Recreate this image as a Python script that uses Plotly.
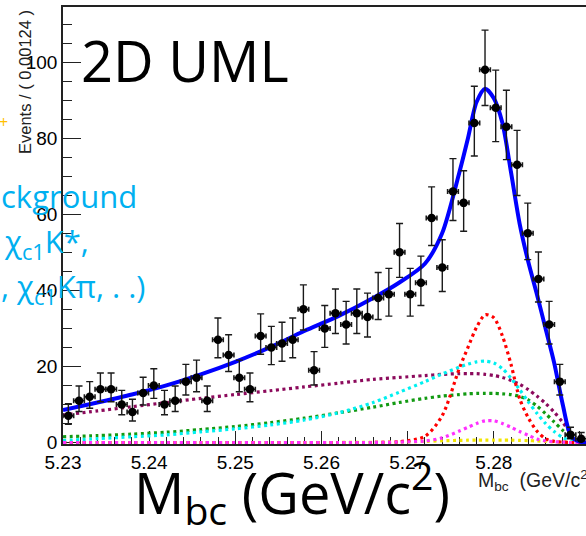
import math
import plotly.graph_objects as go

# ---------------------------------------------------------------------------
# Binned M_bc data: 49 bins of 0.00124 GeV/c^2 starting at 5.23 GeV/c^2
# ---------------------------------------------------------------------------
bin_lo = 5.23
bin_width = 0.00124
counts = [7, 11, 12, 14, 14, 10, 8, 13, 15, 10,
          11, 16, 17, 11, 27, 23, 17, 14, 28, 25,
          26, 27, 35, 19, 30, 34, 31, 34, 33, 38,
          39, 50, 39, 42, 59, 46, 66, 63, 84, 98,
          88, 83, 73, 55, 43, 31, 16, 2, 1]

# Fit curves sampled on a common M_bc grid
mbc_grid = [5.230, 5.234, 5.238, 5.242, 5.246, 5.250, 5.254, 5.258, 5.262, 5.266,
            5.269, 5.272, 5.274, 5.276, 5.277, 5.278, 5.279, 5.280, 5.281, 5.282,
            5.283, 5.284, 5.285, 5.286, 5.287, 5.288, 5.289, 5.290, 5.2907]

fit_total = [8.5, 10.5, 12.6, 15.0, 17.9, 21.2, 25.0, 29.3, 33.3, 38.0,
             42.0, 47.0, 55.0, 71.0, 80.0, 89.5, 93.0, 90.5, 84.0, 71.0,
             57.5, 47.5, 39.0, 30.0, 21.0, 10.0, 1.5, 0.2, 0.0]
bkg_continuum = [7.2, 8.3, 9.4, 10.5, 11.6, 12.6, 13.6, 14.6, 15.6, 16.6,
                 17.1, 17.6, 17.9, 18.1, 18.1, 18.1, 17.9, 17.6, 17.1, 16.3,
                 15.3, 13.9, 12.2, 10.3, 8.0, 5.3, 2.2, 0.2, 0.0]
bkg_cyan = [0.5, 1.0, 1.5, 2.0, 2.8, 3.6, 4.6, 5.9, 7.8, 10.5,
            13.2, 16.0, 18.0, 19.8, 20.6, 21.2, 21.4, 20.9, 19.4, 16.9,
            13.9, 10.7, 7.7, 5.0, 2.9, 1.3, 0.4, 0.0, 0.0]
bkg_green = [1.5, 1.8, 2.2, 2.7, 3.4, 4.2, 5.2, 6.4, 7.8, 9.3,
             10.5, 11.6, 12.2, 12.6, 12.8, 12.9, 12.9, 12.9, 12.8, 12.6,
             12.1, 11.2, 9.6, 7.6, 5.4, 3.2, 1.2, 0.1, 0.0]
sig_red = [0, 0, 0, 0, 0, 0, 0, 0, 0, 0,
           0.2, 1.6, 7.0, 19.5, 25.0, 30.3, 33.6, 32.8, 28.0, 20.5,
           11.5, 6.5, 3.0, 1.0, 0.3, 0.1, 0, 0, 0]
sig_magenta = [0, 0, 0, 0, 0, 0, 0, 0, 0, 0,
               0.1, 0.4, 1.2, 3.0, 4.0, 5.0, 5.7, 5.7, 5.0, 4.0,
               2.9, 1.9, 0.9, 0.4, 0.2, 0.1, 0, 0, 0]
sig_yellow = [0, 0, 0, 0, 0, 0, 0, 0, 0, 0.05,
              0.1, 0.3, 0.45, 0.55, 0.6, 0.6, 0.6, 0.6, 0.6, 0.6,
              0.55, 0.5, 0.4, 0.3, 0.2, 0.15, 0.05, 0, 0]

x_tick_vals = [5.23, 5.24, 5.25, 5.26, 5.27, 5.28, 5.29]
x_tick_text = ["5.23", "5.24", "5.25", "5.26", "5.27", "5.28", "5.29"]
y_tick_vals = [0, 20, 40, 60, 80, 100]

# ---------------------------------------------------------------------------
W, H = 586, 536
ML, MR, MT, MB = 63, 0, 7, 92
PW, PH = W - ML - MR, H - MT - MB


def px(xp):
    return (xp - ML) / PW


def py(yp):
    return (H - MB - yp) / PH


bin_centres = [bin_lo + (i + 0.5) * bin_width for i in range(len(counts))]
err_hi = [0.5 + math.sqrt(n + 0.25) for n in counts]
err_lo = [-0.5 + math.sqrt(n + 0.25) for n in counts]

fig = go.Figure()


def dotted(y, color):
    fig.add_trace(go.Scatter(
        x=mbc_grid, y=y, mode="lines",
        line=dict(color=color, width=3.2, dash="3px,3.5px", shape="spline", smoothing=0.8),
        hoverinfo="skip", showlegend=False))


dotted(bkg_continuum, "#8c0a5c")
dotted(bkg_green, "#129a12")
dotted(bkg_cyan, "#00f0f0")
dotted(sig_yellow, "#f2e600")
dotted(sig_red, "#ff0000")
dotted(sig_magenta, "#ff30ff")

fig.add_trace(go.Scatter(
    x=mbc_grid, y=fit_total, mode="lines",
    line=dict(color="#0000ff", width=4, shape="spline", smoothing=0.8),
    hoverinfo="skip", showlegend=False))

fig.add_trace(go.Scatter(
    x=bin_centres, y=counts, mode="markers",
    marker=dict(color="black", size=8.5, symbol="circle"),
    error_y=dict(type="data", symmetric=False, array=err_hi, arrayminus=err_lo,
                 color="#1a1a1a", thickness=1.4, width=3.5),
    error_x=dict(type="constant", value=bin_width / 2, color="#1a1a1a",
                 thickness=1.6, width=2.5),
    hoverinfo="skip", showlegend=False))

tick_font = dict(family="Liberation Sans, Arial, sans-serif", size=19, color="black")

fig.update_layout(
    width=W, height=H,
    margin=dict(l=ML, r=MR, t=MT, b=MB, pad=0),
    paper_bgcolor="white", plot_bgcolor="white",
    xaxis=dict(range=[5.23, 5.2907], showgrid=False, zeroline=False,
               tickmode="array", tickvals=x_tick_vals, ticktext=x_tick_text,
               ticks="inside", ticklen=13, tickwidth=1.3, tickcolor="#222",
               showline=True, linecolor="#222", linewidth=1.6, mirror=True,
               tickfont=tick_font, layer="below traces",
               minor=dict(dtick=0.002, tick0=5.23, ticks="inside", ticklen=7,
                          tickwidth=1.2, tickcolor="#222", showgrid=False)),
    yaxis=dict(range=[-0.4, 114.5], showgrid=False, zeroline=False,
               tickmode="array", tickvals=y_tick_vals,
               ticks="inside", ticklen=18, tickwidth=1.3, tickcolor="#222",
               showline=True, linecolor="#222", linewidth=1.6,
               tickfont=tick_font, layer="below traces",
               minor=dict(dtick=5, tick0=0, ticks="inside", ticklen=9,
                          tickwidth=1.2, tickcolor="#222", showgrid=False)),
)

annotations = [
    # ROOT-style axis titles
    dict(text="Events / ( 0.00124 )", x=px(25), y=py(82), textangle=-90,
         font=dict(family="Liberation Sans, Arial, sans-serif", size=16.5, color="#222")),
    dict(text="M<sub>bc</sub>  (GeV/c<sup>2</sup>)", x=px(476), y=py(480), xanchor="left",
         font=dict(family="Liberation Sans, Arial, sans-serif", size=19.5, color="#222")),
    # slide overlays
    dict(text="2D UML", x=px(79), y=py(59.5), xanchor="left",
         font=dict(family="Open Sans", size=56, color="black")),
    dict(text="M<sub>bc</sub> (GeV/c<sup>2</sup>)", x=px(132), y=py(492), xanchor="left",
         font=dict(family="Open Sans", size=56, color="black")),
    dict(text="ckground", x=px(-1), y=py(196), xanchor="left",
         font=dict(family="Open Sans", size=31, color="#00b0f0")),
    dict(text="χ<sub>c1</sub>K*,", x=px(2), y=py(243), xanchor="left",
         font=dict(family="Open Sans", size=31, color="#00b0f0")),
    dict(text=", χ<sub>c1</sub>Kπ, . .)", x=px(-1), y=py(288), xanchor="left",
         font=dict(family="Open Sans", size=31, color="#00b0f0")),
    dict(text="+", x=px(3), y=py(122),
         font=dict(family="Open Sans", size=16, color="#ffc000")),
]
for a in annotations:
    a.setdefault("xanchor", "center")
    a.setdefault("yanchor", "middle")
    fig.add_annotation(xref="paper", yref="paper", showarrow=False, **a)

fig.write_html("out.html")
